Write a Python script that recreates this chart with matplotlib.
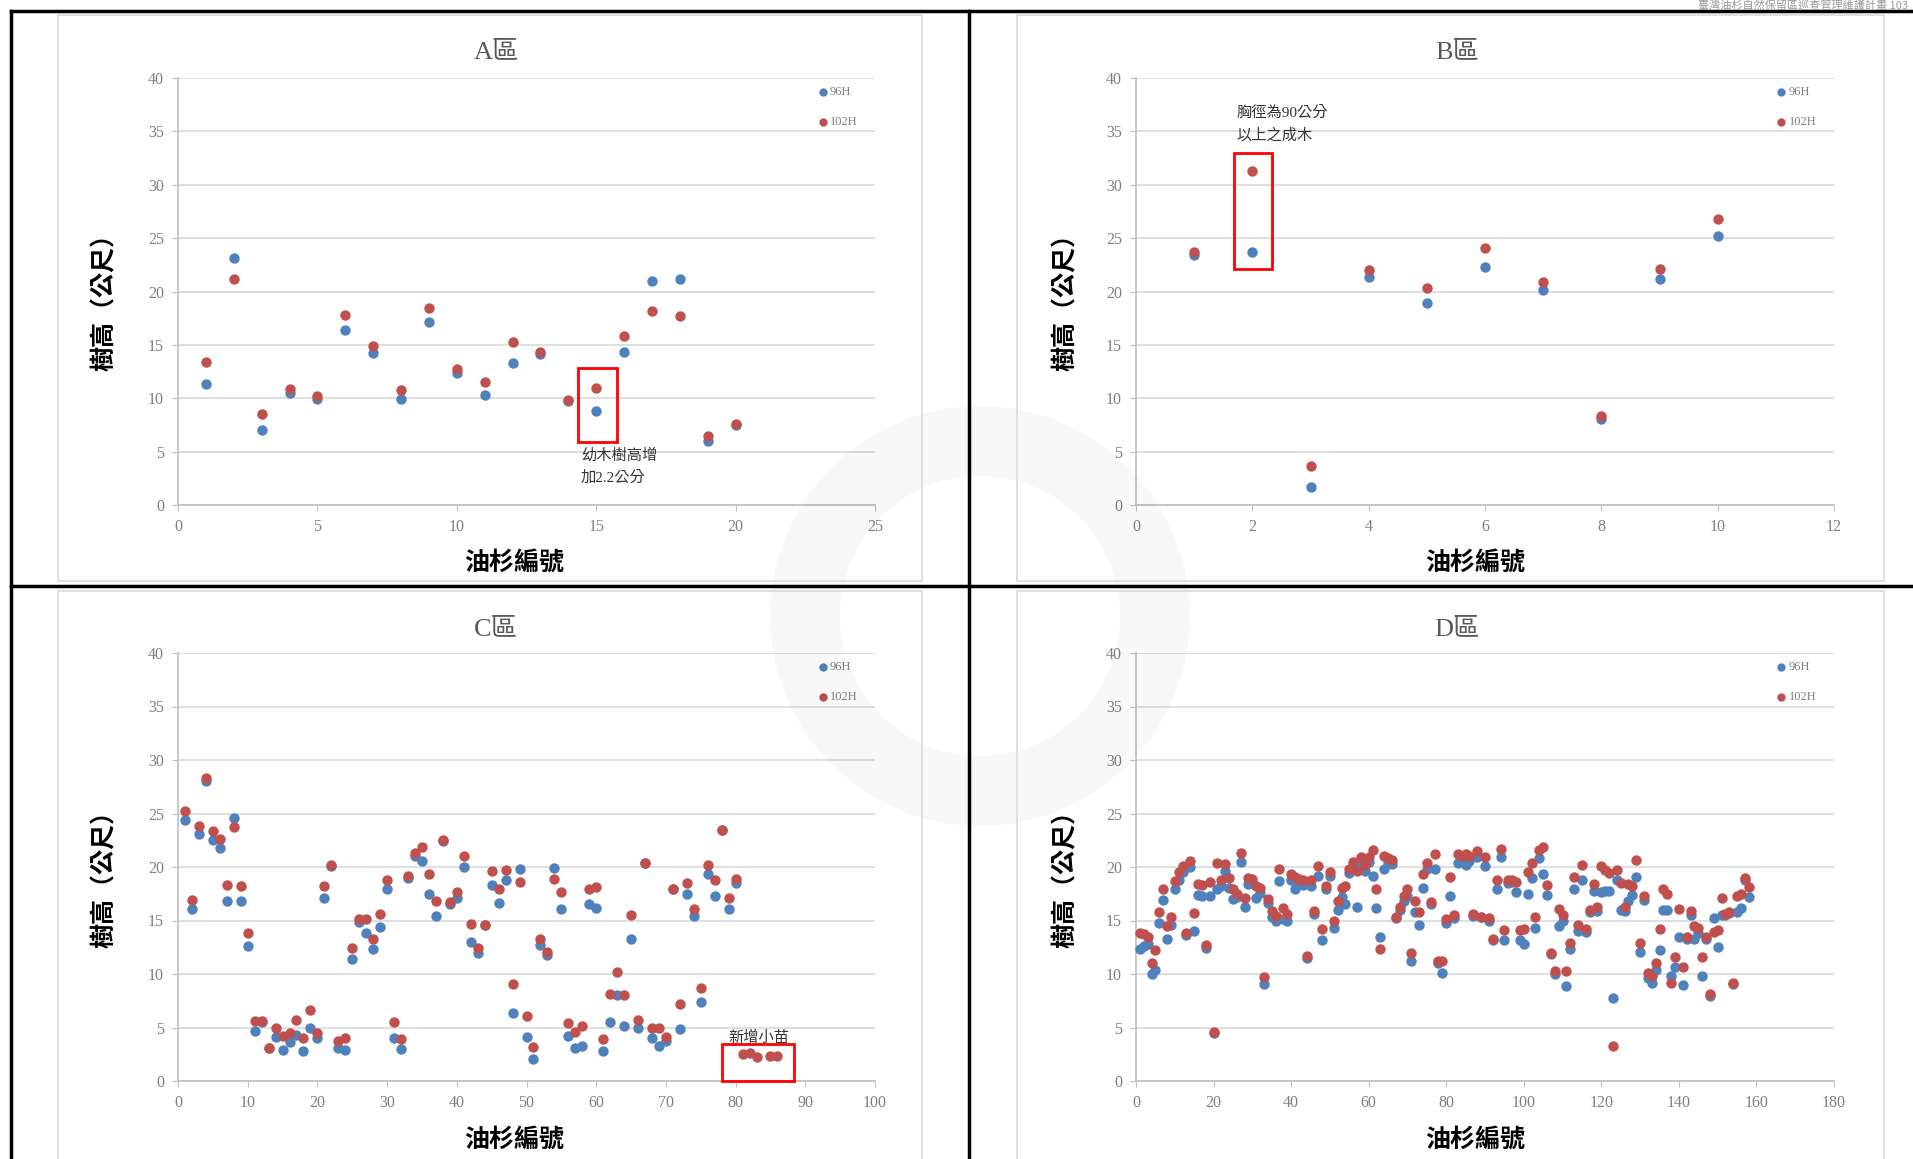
# %% IMPORT LIBRARIES AND SETUP
import numpy as np
import matplotlib.pyplot as plt
from matplotlib.patches import Rectangle, Wedge
from matplotlib.lines import Line2D

# Serif digits first, CJK glyphs fall back to Noto Sans CJK TC
plt.rcParams['font.family'] = ['Liberation Serif', 'Noto Sans CJK TC']

nan = np.nan

# %% DATA (tree heights in metres, 96 vs 102)
# A zone
a_96 = [11.3, 23.1, 7.0, 10.5, 9.9, 16.4, 14.2, 9.9, 17.1, 12.4,
        10.3, 13.3, 14.1, 9.7, 8.8, 14.3, 21.0, 21.2, 6.0, 7.5]
a_102 = [13.4, 21.2, 8.5, 10.9, 10.2, 17.8, 14.9, 10.8, 18.5, 12.7,
         11.5, 15.3, 14.3, 9.8, 11.0, 15.8, 18.2, 17.7, 6.5, 7.6]

# B zone
b_96 = [23.4, 23.7, 1.7, 21.4, 18.9, 22.3, 20.1, 8.1, 21.2, 25.2]
b_102 = [23.7, 31.3, 3.7, 22.0, 20.3, 24.1, 20.9, 8.3, 22.1, 26.8]

# C zone (81-86 are new seedlings, no 96 value)
c_96 = [24.4, 16.1, 23.1, 28.0, 22.5, 21.8, 16.8, 24.6, 16.8, 12.6,
        4.7, 5.5, 3.1, 4.1, 2.9, 3.6, 4.3, 2.8, 5.0, 4.0,
        17.1, 20.1, 3.1, 2.9, 11.4, 14.9, 13.8, 12.3, 14.4, 17.9,
        4.0, 3.0, 19.0, 21.0, 20.6, 17.5, 15.4, 22.4, 16.5, 17.1,
        20.0, 13.0, 12.0, 14.6, 18.3, 16.6, 18.8, 6.4, 19.8, 4.1,
        2.1, 12.7, 11.8, 19.9, 16.1, 4.25, 3.1, 3.25, 16.5, 16.2,
        2.8, 5.5, 8.0, 5.1, 13.3, 5.0, 20.4, 4.0, 3.3, 3.7,
        17.9, 4.9, 17.5, 15.4, 7.4, 19.3, 17.3, 23.5, 16.1, 18.5,
        nan, nan, nan, nan, nan, nan]
c_102 = [25.2, 16.9, 23.8, 28.3, 23.4, 22.6, 18.3, 23.7, 18.2, 13.8,
         5.6, 5.6, 3.1, 5.0, 4.2, 4.5, 5.7, 4.0, 6.6, 4.5,
         18.2, 20.2, 3.7, 4.0, 12.4, 15.1, 15.1, 13.3, 15.6, 18.8,
         5.5, 3.9, 19.2, 21.3, 21.9, 19.3, 16.8, 22.5, 16.7, 17.7,
         21.0, 14.7, 12.4, 14.6, 19.6, 17.9, 19.7, 9.1, 18.6, 6.1,
         3.2, 13.3, 12.1, 18.9, 17.7, 5.4, 4.55, 5.1, 17.9, 18.1,
         3.9, 8.1, 10.2, 8.0, 15.5, 5.7, 20.4, 5.0, 5.0, 4.15,
         17.9, 7.2, 18.5, 16.1, 8.7, 20.2, 18.8, 23.5, 17.1, 18.9,
         2.5, 2.6, 2.2, nan, 2.3, 2.35]

# D zone
d_96 = [12.3, 12.6, 12.8, 10.0, 10.4, 14.8, 16.9, 13.3, 14.6, 17.9,
        18.8, 19.5, 13.6, 20.0, 14.0, 17.4, 17.3, 12.4, 17.3, 4.5,
        17.9, 18.2, 19.6, 18.0, 17.0, 17.2, 20.5, 16.3, 18.4, 18.5,
        17.1, 17.6, 9.1, 16.6, 15.3, 15.0, 18.7, 15.1, 15.0, 18.8,
        17.9, 18.5, 18.3, 11.5, 18.2, 15.6, 19.2, 13.2, 17.9, 19.2,
        14.3, 16.0, 17.2, 16.5, 19.4, 19.8, 16.3, 20.2, 19.6, 20.5,
        19.2, 16.2, 13.5, 19.8, 20.5, 20.3, 15.2, 16.0, 16.8, 17.3,
        11.2, 15.8, 14.6, 18.0, 19.8, 16.5, 19.8, 11.0, 10.1, 14.8,
        17.3, 15.2, 20.4, 20.6, 20.2, 20.6, 15.4, 20.9, 15.3, 20.1,
        15.0, 13.2, 17.9, 20.9, 13.2, 18.5, 18.6, 17.7, 13.2, 12.8,
        17.5, 19.0, 14.3, 20.8, 19.3, 17.4, 11.9, 10.0, 14.5, 15.0,
        8.9, 12.3, 17.9, 14.0, 18.8, 13.9, 15.8, 17.8, 15.9, 17.7,
        17.8, 17.8, 7.8, 18.8, 16.0, 15.9, 16.8, 17.4, 19.1, 12.1,
        16.9, 9.6, 9.2, 10.4, 12.2, 16.0, 16.0, 9.8, 10.7, 13.5,
        9.0, 13.3, 15.5, 13.3, 13.8, 9.8, 13.3, 7.9, 15.2, 12.5,
        15.5, 15.5, 15.7, 9.1, 15.8, 16.2, 18.8, 17.2]
d_102 = [13.8, 13.7, 13.5, 11.0, 12.2, 15.8, 17.9, 14.5, 15.3, 18.7,
         19.5, 20.1, 13.8, 20.6, 15.7, 18.4, 18.3, 12.7, 18.6, 4.6,
         20.4, 18.8, 20.3, 19.0, 17.9, 17.5, 21.3, 17.1, 19.0, 18.9,
         18.2, 18.0, 9.7, 17.0, 15.9, 15.4, 19.8, 16.2, 15.6, 19.3,
         19.1, 18.9, 18.8, 11.7, 18.8, 15.9, 20.1, 14.2, 18.2, 19.5,
         15.0, 16.8, 18.0, 18.2, 19.8, 20.5, 19.6, 20.9, 20.2, 20.9,
         21.6, 17.9, 12.3, 21.0, 20.8, 20.7, 15.3, 16.3, 17.3, 17.9,
         12.0, 16.8, 15.8, 19.3, 20.4, 16.7, 21.2, 11.2, 11.2, 15.1,
         19.1, 15.5, 21.2, 21.0, 21.2, 21.0, 15.6, 21.5, 15.3, 20.9,
         15.2, 13.3, 18.8, 21.7, 14.1, 18.8, 18.8, 18.6, 14.1, 14.2,
         19.5, 20.4, 15.3, 21.6, 21.9, 18.3, 12.0, 10.3, 16.1, 15.5,
         10.3, 12.9, 19.1, 14.6, 20.2, 14.2, 16.0, 18.4, 16.3, 20.1,
         19.7, 19.4, 3.3, 19.7, 18.5, 16.3, 18.4, 18.2, 20.7, 12.9,
         17.3, 10.1, 9.8, 11.0, 14.2, 17.9, 17.5, 9.2, 11.6, 16.1,
         10.7, 13.5, 15.9, 14.5, 14.3, 11.6, 13.5, 8.1, 13.9, 14.1,
         17.1, 15.6, 15.8, 9.2, 17.3, 17.5, 19.0, 18.1]

# %% FIGURE AND PAGE FRAME
W, H = 1913, 1159
fig = plt.figure(figsize=(W / 100, H / 100), dpi=100)


def fx(px):
    # pixel x -> figure fraction
    return px / W


def fy(py):
    # pixel y (from top) -> figure fraction
    return 1 - py / H


# faint watermark ring in the middle of the page (drawn first, behind the charts' marks)
fig.add_artist(Wedge((9.8, (H - 616) / 100), 2.1, 0, 360, width=0.7,
                     transform=fig.dpi_scale_trans, color='black', alpha=0.028, lw=0))

# black table lines of the report page
for xs, ys in [([11, 11], [11, H]), ([969, 969], [11, H]),
               ([11, W], [11, 11]), ([11, W], [586, 586])]:
    fig.add_artist(Line2D([fx(v) for v in xs], [fy(v) for v in ys],
                          color='black', lw=2.5))

# page header at the top right, above the table line
fig.text(fx(1908), fy(0), '臺灣油杉自然保留區巡查管理維護計畫 103', ha='right', va='top',
         fontsize=8, color='#9A9A9A', family=['Noto Sans CJK TC'])

BLUE = '#4F81BD'
RED = '#C0504D'


def draw_panel(box, plot, h96, h102, xmax, xstep, title, x_off, y_off):
    # light grey chart-area border
    fig.add_artist(Rectangle((fx(box[0]), fy(box[3])), fx(box[2] - box[0]),
                             (box[3] - box[1]) / H, transform=fig.transFigure,
                             fill=False, edgecolor='#D9D9D9', lw=1.2))
    left, top, right, bottom = plot
    ax = fig.add_axes([fx(left), fy(bottom), fx(right - left), (bottom - top) / H])
    ax.patch.set_alpha(0)
    ids = np.arange(1, len(h96) + 1)
    ax.scatter(ids, h96, s=56, color=BLUE, label='96H', zorder=3, clip_on=False, lw=0)
    ax.scatter(ids, h102, s=56, color=RED, label='102H', zorder=4, clip_on=False, lw=0)
    ax.set_xlim(0, xmax)
    ax.set_ylim(0, 40)
    ax.set_xticks(np.arange(0, xmax + 1, xstep))
    ax.set_yticks(np.arange(0, 41, 5))
    ax.grid(axis='y', color='#D9D9D9', lw=1.2)
    ax.set_axisbelow(True)
    for s in ['top', 'right']:
        ax.spines[s].set_visible(False)
    for s in ['left', 'bottom']:
        ax.spines[s].set_color('#BFBFBF')
        ax.spines[s].set_linewidth(1.2)
    ax.tick_params(colors='#BFBFBF', labelcolor='#7F7F7F', labelsize=11.5, length=4, pad=6)
    ax.legend(loc='upper left', bbox_to_anchor=(0.905, 0.995), frameon=False, fontsize=9,
              labelspacing=1.4, handletextpad=0.0, borderpad=0, handlelength=1.2,
              markerscale=0.8, labelcolor='#7F7F7F')
    # title and axis labels
    fig.text(fx(x_off + 496), fy(y_off + 52), title, ha='center', va='center',
             fontsize=19, color='#595959')
    fig.text(fx(x_off + 514), fy(y_off + 563), '油杉編號', ha='center', va='center',
             fontsize=18, fontweight='bold', family=['Noto Sans CJK TC'])
    fig.text(fx(x_off + 105), fy(y_off + 296), '樹高（公尺）', ha='center', va='center',
             rotation=90, fontsize=18, fontweight='bold', family=['Noto Sans CJK TC'])
    return ax


# %% PANELS
ax_a = draw_panel((58, 15, 922, 581), (178, 78, 875, 505), a_96, a_102, 25, 5, 'A區', 0, 0)
ax_b = draw_panel((1017, 15, 1884, 581), (1136, 78, 1834, 505), b_96, b_102, 12, 2, 'B區', 961, 0)
ax_c = draw_panel((58, 591, 922, 1180), (178, 653, 875, 1081), c_96, c_102, 100, 10, 'C區', 0, 577)
ax_d = draw_panel((1017, 591, 1884, 1180), (1136, 653, 1834, 1081), d_96, d_102, 180, 20, 'D區', 961, 577)

# red highlight boxes and notes
ax_a.add_patch(Rectangle((14.33, 5.9), 1.41, 6.9, fill=False, edgecolor='red', lw=2, zorder=5))
ax_a.text(14.45, 5.3, '幼木樹高增\n加2.2公分', fontsize=11, va='top', ha='left',
          linespacing=1.7, color='#333333')

ax_b.add_patch(Rectangle((1.69, 22.1), 0.64, 10.9, fill=False, edgecolor='red', lw=2, zorder=5))
ax_b.text(1.72, 37.4, '胸徑為90公分\n以上之成木', fontsize=11, va='top', ha='left',
          linespacing=1.7, color='#333333')

ax_c.add_patch(Rectangle((78.05, 0), 10.35, 3.5, fill=False, edgecolor='red', lw=2,
                         zorder=5, clip_on=False))
ax_c.text(83.3, 3.4, '新增小苗', fontsize=11, va='bottom', ha='center', color='#333333')

fig.savefig('out.png', dpi=100)
